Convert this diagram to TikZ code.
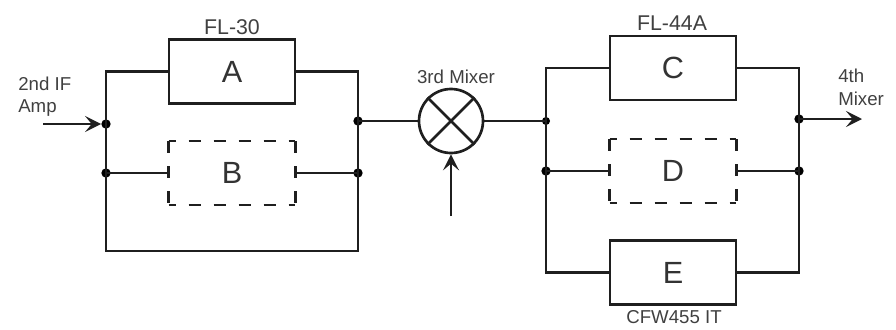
\documentclass[tikz,border=0pt]{standalone}
\usepackage{fontspec}
\setmainfont{Liberation Sans}
\usetikzlibrary{arrows.meta}
\begin{document}
\begin{tikzpicture}[x=0.75pt,y=-0.75pt,
  wire/.style={line width=2pt,draw=black!88,line join=miter},
  fbox/.style={draw=black!88,line width=2.1pt,minimum width=94.5pt,minimum height=48pt,inner sep=0pt,font=\fontsize{23}{25}\selectfont,text=black!80},
  dbox/.style={minimum width=94.5pt,minimum height=47.5pt,inner sep=0pt,font=\fontsize{23}{25}\selectfont,text=black!80},
  dashh/.style={line width=2pt,draw=black!88,dash pattern=on 9pt off 9.75pt,dash phase=3.75pt},
  dashv/.style={line width=2pt,draw=black!88,dash pattern=on 9pt off 9.75pt},
  dot/.style={circle,fill=black,inner sep=0pt,minimum size=7pt},
  lab/.style={font=\fontsize{14}{16}\selectfont,text=black!75,inner sep=0pt},
  biglab/.style={font=\fontsize{16}{18}\selectfont,text=black!75,inner sep=0pt},
  arr/.style={wire,-{Stealth[length=12pt,width=12pt,inset=5pt]}}]
\useasboundingbox (0,0) rectangle (896,329);
% blocks
\node[fbox] (A) at (232,71.5) {A};
\node[dbox] (B) at (232,173) {B};
\node[fbox] (C) at (673,68) {C};
\node[dbox] (D) at (673,171) {D};
\node[fbox] (E) at (673,272.5) {E};
\node[circle,draw=black!88,line width=2pt,minimum size=48pt,inner sep=0pt] (mix) at (451,121) {};
\draw[wire] (mix.north west) -- (mix.south east);
\draw[wire] (mix.north east) -- (mix.south west);
% dashed box sides
\foreach \b in {B,D}{
  \draw[dashh] (\b.north west) -- (\b.north east);
  \draw[dashh] (\b.south west) -- (\b.south east);
  \draw[dashv] (\b.north west) -- (\b.south west);
  \draw[dashv] (\b.north east) -- (\b.south east);
}
% junctions
\node[dot] (j1) at (106,124) {};
\node[dot] (j2) at (106,173) {};
\node[dot] (j3) at (358,121) {};
\node[dot] (j4) at (358,173) {};
\node[dot,minimum size=6pt] (j5) at (546,121) {};
\node[dot] (j6) at (546,171) {};
\node[dot] (j7) at (799,119) {};
\node[dot] (j8) at (799,171) {};
% bus corners and free ends
\coordinate (lb) at (106,251);
\coordinate (rb) at (358,251);
\coordinate (in) at (43,124);
\coordinate (lo) at (451,216);
\coordinate (out) at (862,119);
% left filter group
\draw[wire] (j1.center) |- (A.west);
\draw[wire] (A.east) -| (j3.center);
\draw[wire] (j1.center) -- (j2.center) -- (lb) -- (rb) -- (j4.center) -- (j3.center);
\draw[wire] (j2.center) -- (B.west);
\draw[wire] (B.east) -- (j4.center);
% right filter group
\draw[wire] (j5.center) |- (C.west);
\draw[wire] (C.east) -| (j7.center);
\draw[wire] (j5.center) -- (j6.center) |- (E.west);
\draw[wire] (E.east) -| (j8.center);
\draw[wire] (j7.center) -- (j8.center);
\draw[wire] (j6.center) -- (D.west);
\draw[wire] (D.east) -- (j8.center);
% through path
\draw[wire] (j3.center) -- (mix.west);
\draw[wire] (mix.east) -- (j5.center);
\draw[arr] (in) -- (j1);
\draw[arr] (lo) -- (mix.south);
\draw[arr] (j7.center) -- (out);
% labels
\node[biglab] (t1) at (232,27) {FL-30};
\node[biglab] (t2) at (672,23) {FL-44A};
\node[lab] (t3) at (456,77) {3rd Mixer};
\node[lab] (t4) at (674,317) {CFW455 IT};
\node[lab,anchor=west] (t5) at (18,84) {2nd IF};
\node[lab,anchor=west] (t6) at (18,108) {Amp};
\node[lab,anchor=west] (t7) at (838,76) {4th};
\node[lab,anchor=west] (t8) at (838,99) {Mixer};
\end{tikzpicture}
\end{document}
